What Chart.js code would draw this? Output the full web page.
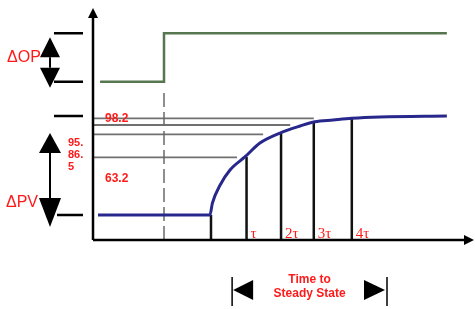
<!DOCTYPE html>
<html>
<head>
<meta charset="utf-8">
<script src="https://cdn.jsdelivr.net/npm/chart.js@4.4.0/dist/chart.umd.min.js"></script>
<style>
html, body { margin: 0; padding: 0; background: #fff; }
#wrap { width: 475px; height: 309px; }
</style>
</head>
<body>
<div id="wrap"><canvas id="StepResponse"></canvas></div>
<script>
// time is in units of tau, t = 0 where PV starts to move
const op_times = [-3.15, -1.335, -1.335, 6.7];
const op_values = [0, 0, 100, 100];           // % of delta OP

const pv_times = [-3.21, -0.03, 0.04, 0.26, 0.54, 0.97, 1.39, 1.96, 2.53, 2.95, 3.47, 4.0, 4.8, 6.7];
const pv_values = [0, 0, 12.0, 30.3, 45.5, 58.9, 72.7, 82.8, 89.9, 94.2, 96.0, 97.7, 99.0, 100]; // % of delta PV

const tau_times = [0, 1.01, 1.99, 2.92, 4.0];
const tau_tops = [0, 58.6, 82.3, 93.4, 97.7];
const tau_labels = ['', 'τ', '2τ', '3τ', '4τ'];

const ref_levels = [97.7, 90.9, 81.5, 58.3];
const ref_ends = [2.92, 2.25, 1.48, 0.74];

const pct_labels = ['98.2', '95.', '86.', '5', '63.2'];

const step_time = -1.335;
const steady_span = [0.6, 5.0];

const T_MIN = -3.352, T_MAX = 7.443;
const PV_MIN = -25.25, PV_MAX = 207.07;
const OP_MIN = -327.1, OP_MAX = 148.1;

let tau_data = [];
tau_times.forEach((t, i) => {
    if (i === 0) {
        tau_data.push({x: t, y: PV_MIN}, {x: t, y: pv_values[1]}, {x: t, y: null});
    } else {
        tau_data.push({x: t, y: PV_MIN}, {x: t, y: tau_tops[i]}, {x: t, y: null});
    }
});

let ref_data = [];
ref_levels.forEach((lv, i) => {
    ref_data.push({x: T_MIN, y: lv}, {x: ref_ends[i], y: lv}, {x: ref_ends[i], y: null});
});

const RED = '#ff1a1a';

function arrowDouble(ctx, x, top, bottom, upH, downH, w) {
    ctx.fillStyle = '#000';
    ctx.strokeStyle = '#000';
    ctx.lineWidth = 2;
    ctx.beginPath();
    ctx.moveTo(x, top + upH);
    ctx.lineTo(x, bottom - downH);
    ctx.stroke();
    ctx.beginPath();
    ctx.moveTo(x, top);
    ctx.lineTo(x - w / 2, top + upH);
    ctx.lineTo(x + w / 2, top + upH);
    ctx.closePath();
    ctx.fill();
    ctx.beginPath();
    ctx.moveTo(x, bottom);
    ctx.lineTo(x - w / 2, bottom - downH);
    ctx.lineTo(x + w / 2, bottom - downH);
    ctx.closePath();
    ctx.fill();
}

const annotations = {
    id: 'annotations',
    afterDraw(chart) {
        const ctx = chart.ctx;
        const area = chart.chartArea;
        const xs = chart.scales.x, pv = chart.scales.yPV, op = chart.scales.yOP;
        ctx.save();

        // axes with arrow heads
        ctx.strokeStyle = '#000';
        ctx.fillStyle = '#000';
        ctx.lineWidth = 2.5;
        ctx.beginPath();
        ctx.moveTo(area.left, area.bottom);
        ctx.lineTo(area.left, area.top + 7);
        ctx.moveTo(area.left, area.bottom);
        ctx.lineTo(area.right - 6, area.bottom);
        ctx.stroke();
        ctx.beginPath();
        ctx.moveTo(area.left, area.top - 2);
        ctx.lineTo(area.left - 5, area.top + 8);
        ctx.lineTo(area.left + 5, area.top + 8);
        ctx.closePath();
        ctx.fill();
        ctx.beginPath();
        ctx.moveTo(area.right + 1, area.bottom);
        ctx.lineTo(area.right - 9, area.bottom - 5);
        ctx.lineTo(area.right - 9, area.bottom + 5);
        ctx.closePath();
        ctx.fill();

        // level ticks left of the axis
        ctx.lineWidth = 2.5;
        const ticks = [
            [op.getPixelForValue(100), 54],
            [op.getPixelForValue(0), 54],
            [pv.getPixelForValue(100), 54],
            [pv.getPixelForValue(0), 57]
        ];
        ctx.beginPath();
        for (const tk of ticks) {
            ctx.moveTo(tk[1], tk[0]);
            ctx.lineTo(83, tk[0]);
        }
        ctx.stroke();

        // delta arrows
        const op100 = op.getPixelForValue(100), op0 = op.getPixelForValue(0);
        arrowDouble(ctx, 50, op100 + 4, op0 + 6, 20, 20, 20);
        const pv100 = pv.getPixelForValue(100), pv0 = pv.getPixelForValue(0);
        arrowDouble(ctx, 50, pv100 + 17, pv0 + 12, 20, 29, 22);

        ctx.fillStyle = RED;
        ctx.textBaseline = 'middle';
        ctx.textAlign = 'left';
        ctx.font = '16px "Liberation Sans", Arial, sans-serif';
        ctx.fillText('ΔOP', 7, (op100 + op0) / 2);
        ctx.fillText('ΔPV', 6, pv0 - 12);

        // percentage labels
        ctx.font = 'bold 12px "Liberation Sans", Arial, sans-serif';
        ctx.fillText(pct_labels[0], area.left + 12, pv.getPixelForValue(ref_levels[0]));
        ctx.fillText(pct_labels[4], area.left + 12, 179);
        ctx.font = 'bold 11px "Liberation Sans", Arial, sans-serif';
        ctx.fillText(pct_labels[1], 68, 143);
        ctx.fillText(pct_labels[2], 68, 155);
        ctx.fillText(pct_labels[3], 68, 167);

        // tau labels
        ctx.font = '15px "Liberation Serif", "Times New Roman", serif';
        tau_times.forEach((t, i) => {
            if (tau_labels[i]) {
                ctx.fillText(tau_labels[i], xs.getPixelForValue(t) + 4, area.bottom - 6);
            }
        });

        // time to steady state bracket
        const bx0 = xs.getPixelForValue(steady_span[0]);
        const bx1 = xs.getPixelForValue(steady_span[1]);
        ctx.fillStyle = '#000';
        ctx.strokeStyle = '#000';
        ctx.lineWidth = 1.5;
        ctx.beginPath();
        ctx.moveTo(bx0, 277);
        ctx.lineTo(bx0, 306);
        ctx.moveTo(bx1, 277);
        ctx.lineTo(bx1, 306);
        ctx.stroke();
        ctx.beginPath();
        ctx.moveTo(bx0 + 1, 290);
        ctx.lineTo(bx0 + 21, 280);
        ctx.lineTo(bx0 + 21, 300);
        ctx.closePath();
        ctx.fill();
        ctx.beginPath();
        ctx.moveTo(bx1 - 2, 290);
        ctx.lineTo(bx1 - 23, 280);
        ctx.lineTo(bx1 - 23, 300);
        ctx.closePath();
        ctx.fill();

        ctx.fillStyle = RED;
        ctx.textAlign = 'center';
        ctx.font = 'bold 12px "Liberation Sans", Arial, sans-serif';
        const mid = (bx0 + bx1) / 2;
        ctx.fillText('Time to', mid, 280);
        ctx.fillText('Steady State', mid, 294);

        ctx.restore();
    }
};

new Chart(
    document.getElementById('StepResponse'),
    {
        type: 'line',
        data: {
            datasets: [
                {
                    label: 'Reference',
                    data: ref_data,
                    yAxisID: 'yPV',
                    borderColor: '#707070',
                    borderWidth: 1.8,
                    pointRadius: 0,
                    order: 5
                },
                {
                    label: 'Step',
                    data: [{x: step_time, y: PV_MIN}, {x: step_time, y: 126}],
                    yAxisID: 'yPV',
                    borderColor: '#6a6a6a',
                    borderWidth: 1.5,
                    borderDash: [14, 5],
                    pointRadius: 0,
                    order: 4
                },
                {
                    label: 'OP',
                    data: op_times.map((t, i) => ({x: t, y: op_values[i]})),
                    yAxisID: 'yOP',
                    borderColor: '#56764f',
                    borderWidth: 2.5,
                    pointRadius: 0,
                    order: 2
                },
                {
                    label: 'Tau',
                    data: tau_data,
                    yAxisID: 'yPV',
                    borderColor: '#111',
                    borderWidth: 2.5,
                    pointRadius: 0,
                    order: 3
                },
                {
                    label: 'PV',
                    data: pv_times.map((t, i) => ({x: t, y: pv_values[i]})),
                    yAxisID: 'yPV',
                    borderColor: '#28288c',
                    borderWidth: 3,
                    pointRadius: 0,
                    cubicInterpolationMode: 'monotone',
                    order: 1
                }
            ]
        },
        options: {
            animation: false,
            responsive: true,
            maintainAspectRatio: false,
            layout: {
                padding: {left: 93, right: 2, top: 10, bottom: 69}
            },
            plugins: {
                legend: {display: false},
                tooltip: {enabled: false}
            },
            scales: {
                x: {type: 'linear', display: false, min: T_MIN, max: T_MAX},
                yPV: {type: 'linear', display: false, min: PV_MIN, max: PV_MAX},
                yOP: {type: 'linear', display: false, min: OP_MIN, max: OP_MAX}
            }
        },
        plugins: [annotations]
    }
);
</script>
</body>
</html>
